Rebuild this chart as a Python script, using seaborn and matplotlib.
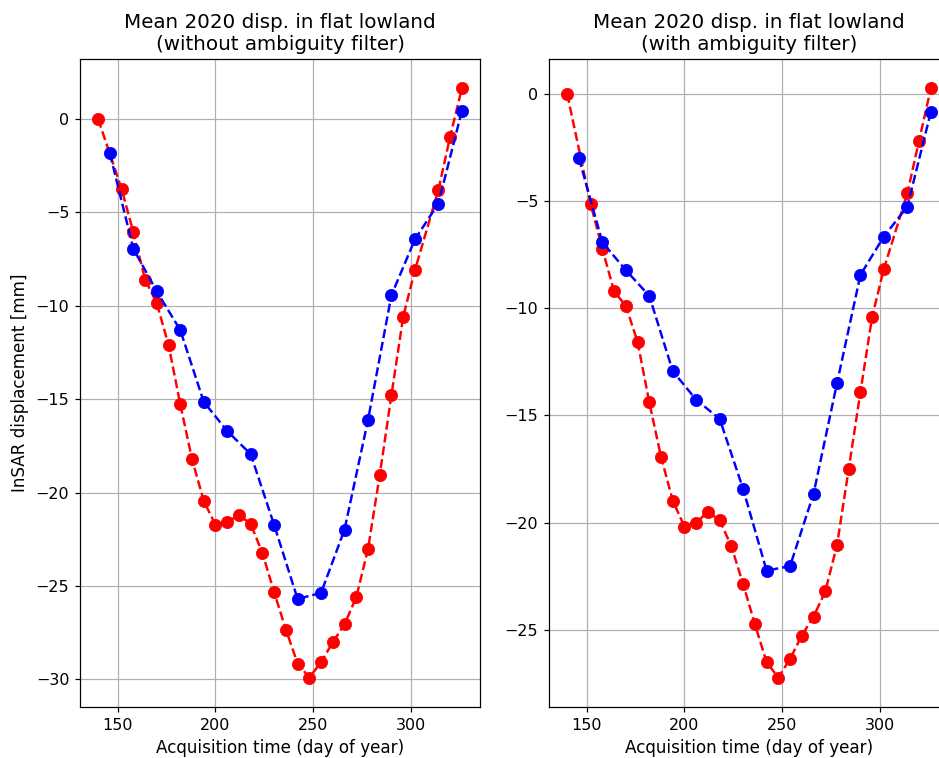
import matplotlib
matplotlib.use("Agg")
import matplotlib.pyplot as plt
import seaborn as sns

# Acquisition days (day of year)
days_red = [140, 152, 158, 164, 170, 176, 182, 188, 194, 200, 206, 212, 218, 224, 230,
            236, 242, 248, 254, 260, 266, 272, 278, 284, 290, 296, 302, 314, 320, 326]
days_blue = [146, 158, 170, 182, 194, 206, 218, 230, 242, 254, 266, 278, 290, 302, 314, 326]

# Mean displacement [mm], without ambiguity filter
red_nofilt = [0, -3.75, -6.07, -8.59, -9.87, -12.1, -15.27, -18.21, -20.44, -21.73,
              -21.59, -21.19, -21.68, -23.23, -25.33, -27.33, -29.15, -29.9, -29.08, -28.01,
              -27.05, -25.6, -23.03, -19.07, -14.78, -10.59, -8.09, -3.8, -0.95, 1.64]
blue_nofilt = [-1.84, -6.95, -9.23, -11.3, -15.14, -16.7, -17.94, -21.73, -25.69, -25.37,
               -21.98, -16.12, -9.43, -6.44, -4.52, 0.43]

# Mean displacement [mm], with ambiguity filter
red_filt = [0, -5.14, -7.23, -9.21, -9.88, -11.57, -14.39, -16.93, -18.97, -20.19,
            -20.0, -19.5, -19.89, -21.11, -22.87, -24.74, -26.51, -27.23, -26.36, -25.27,
            -24.39, -23.21, -21.06, -17.5, -13.9, -10.39, -8.15, -4.63, -2.17, 0.26]
blue_filt = [-2.99, -6.92, -8.22, -9.42, -12.93, -14.27, -15.16, -18.43, -22.24, -22.03,
             -18.66, -13.5, -8.44, -6.65, -5.25, -0.84]

titles = ["Mean 2020 disp. in flat lowland\n(without ambiguity filter)",
          "Mean 2020 disp. in flat lowland\n(with ambiguity filter)"]

dpi = 110
fig = plt.figure(figsize=(939 / dpi, 758 / dpi), dpi=dpi)
W, H = 939, 758
ax1 = fig.add_axes([80 / W, 51 / H, 400 / W, 648 / H])
ax2 = fig.add_axes([549 / W, 51 / H, 400 / W, 648 / H])

line_kw = dict(linestyle="--", marker="o", markersize=8, linewidth=1.6)

for ax, r, b, title in [(ax1, red_nofilt, blue_nofilt, titles[0]),
                        (ax2, red_filt, blue_filt, titles[1])]:
    sns.lineplot(x=days_red, y=r, ax=ax, color="red", markeredgecolor="red",
                 markeredgewidth=0.5, **line_kw)
    sns.lineplot(x=days_blue, y=b, ax=ax, color="blue", markeredgecolor="blue",
                 markeredgewidth=0.5, **line_kw)
    ax.grid(True, color="#b0b0b0", linewidth=0.8)
    ax.set_axisbelow(True)
    ax.set_title(title, fontsize=13)
    ax.set_xlabel("Acquisition time (day of year)", fontsize=11)
    ax.set_xticks([150, 200, 250, 300])
    ax.tick_params(labelsize=10.5)

ax1.set_ylabel("InSAR displacement [mm]", fontsize=11)

fig.savefig("out.png", dpi=dpi)
